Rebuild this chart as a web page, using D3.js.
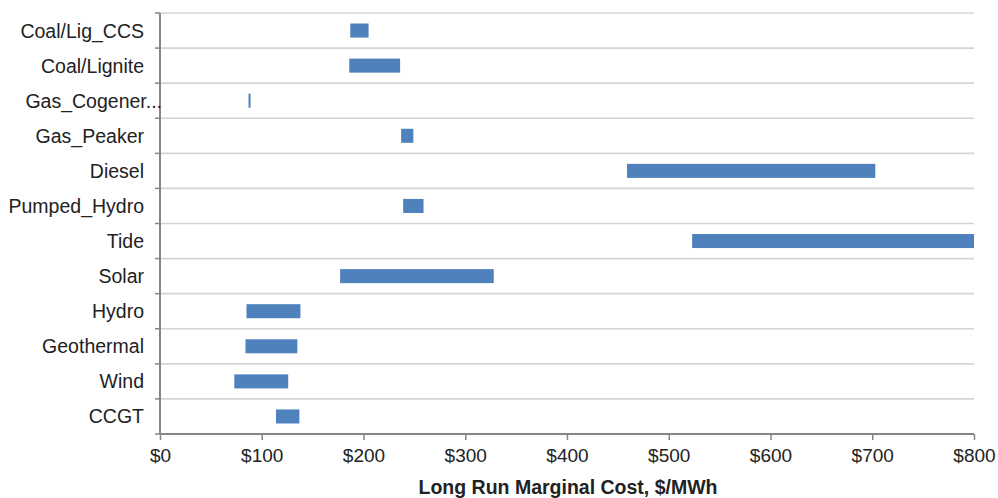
<!DOCTYPE html>
<html>
<head>
<meta charset="utf-8">
<script src="https://cdn.jsdelivr.net/npm/d3@7"></script>
<style>
  html, body { margin: 0; padding: 0; background: #fff; }
  svg { display: block; font-family: "Liberation Sans", Arial, sans-serif; }
</style>
</head>
<body>
<svg id="chart"></svg>
<script>
const width = 998;
const height = 498;
const margin = { top: 13, right: 24, bottom: 64, left: 160 };
const innerWidth = width - margin.left - margin.right;
const innerHeight = height - margin.top - margin.bottom;

// cost range per technology, $/MWh (top to bottom)
const technologies = [
  "Coal/Lig_CCS", "Coal/Lignite", "Gas_Cogener...", "Gas_Peaker", "Diesel", "Pumped_Hydro",
  "Tide", "Solar", "Hydro", "Geothermal", "Wind", "CCGT"
];
const lowCost = [187, 186, 87, 237, 459, 239, 523, 177, 85, 84, 73, 114];
const highCost = [205, 236, 89, 249, 703, 259, 800, 328, 138, 135, 126, 137];
const xTicks = [0, 100, 200, 300, 400, 500, 600, 700, 800];

const data = technologies.map((name, i) => ({ name, low: lowCost[i], high: highCost[i] }));

const svg = d3.select("#chart").attr("width", width).attr("height", height);
const root = svg.append("g").attr("transform", `translate(${margin.left},${margin.top})`);

const x = d3.scaleLinear().domain([0, 800]).range([0, innerWidth]);
const y = d3.scaleBand().domain(technologies).range([0, innerHeight]).paddingInner(0.6).paddingOuter(0.3);

// horizontal gridlines at band boundaries
const boundaries = d3.range(technologies.length + 1).map((i) => i * y.step());
root
  .append("g")
  .attr("class", "grid")
  .selectAll("line")
  .data(boundaries)
  .join("line")
  .attr("x1", 0)
  .attr("x2", innerWidth)
  .attr("y1", (d) => d)
  .attr("y2", (d) => d)
  .attr("stroke", "#d4d4d4")
  .attr("stroke-width", 1.6);

// left tick marks at boundaries
root
  .append("g")
  .selectAll("line")
  .data(boundaries)
  .join("line")
  .attr("x1", -5)
  .attr("x2", 0)
  .attr("y1", (d) => d)
  .attr("y2", (d) => d)
  .attr("stroke", "#868686")
  .attr("stroke-width", 1.5);

root
  .append("g")
  .attr("class", "bars")
  .selectAll("rect")
  .data(data)
  .join("rect")
  .attr("x", (d) => x(d.low))
  .attr("y", (d) => y(d.name))
  .attr("width", (d) => x(d.high) - x(d.low))
  .attr("height", y.bandwidth())
  .attr("fill", "#4f81bd");

// y axis line and labels
root
  .append("line")
  .attr("x1", 0)
  .attr("x2", 0)
  .attr("y1", 0)
  .attr("y2", innerHeight)
  .attr("stroke", "#868686")
  .attr("stroke-width", 2);

// truncated labels run on past the normal right edge, as in the source chart
root
  .append("g")
  .selectAll("text")
  .data(technologies)
  .join("text")
  .attr("x", (d) => (d.endsWith("...") ? 2 : -16))
  .attr("y", (d) => y(d) + y.bandwidth() / 2)
  .attr("dy", "0.36em")
  .attr("text-anchor", "end")
  .attr("font-size", 19.5)
  .attr("fill", "#222")
  .text((d) => d);

const xAxis = d3.axisBottom(x).tickValues(xTicks).tickFormat((d) => `$${d}`).tickSize(6).tickPadding(9);

root
  .append("g")
  .attr("class", "axis-x")
  .attr("transform", `translate(0,${innerHeight})`)
  .call(xAxis)
  .call((g) => g.select(".domain").attr("stroke", "#868686").attr("stroke-width", 2).attr("d", `M0,0H${innerWidth}`))
  .call((g) => g.selectAll(".tick line").attr("stroke", "#868686").attr("stroke-width", 1.5))
  .call((g) => g.selectAll(".tick text").attr("font-size", 19).attr("fill", "#222").attr("font-family", "Liberation Sans, Arial, sans-serif"));

root
  .append("text")
  .attr("x", (x(0) + x(800)) / 2 + 1)
  .attr("y", innerHeight + 60)
  .attr("text-anchor", "middle")
  .attr("font-size", 19.5)
  .attr("font-weight", "bold")
  .attr("fill", "#222")
  .text("Long Run Marginal Cost, $/MWh");
</script>
</body>
</html>
